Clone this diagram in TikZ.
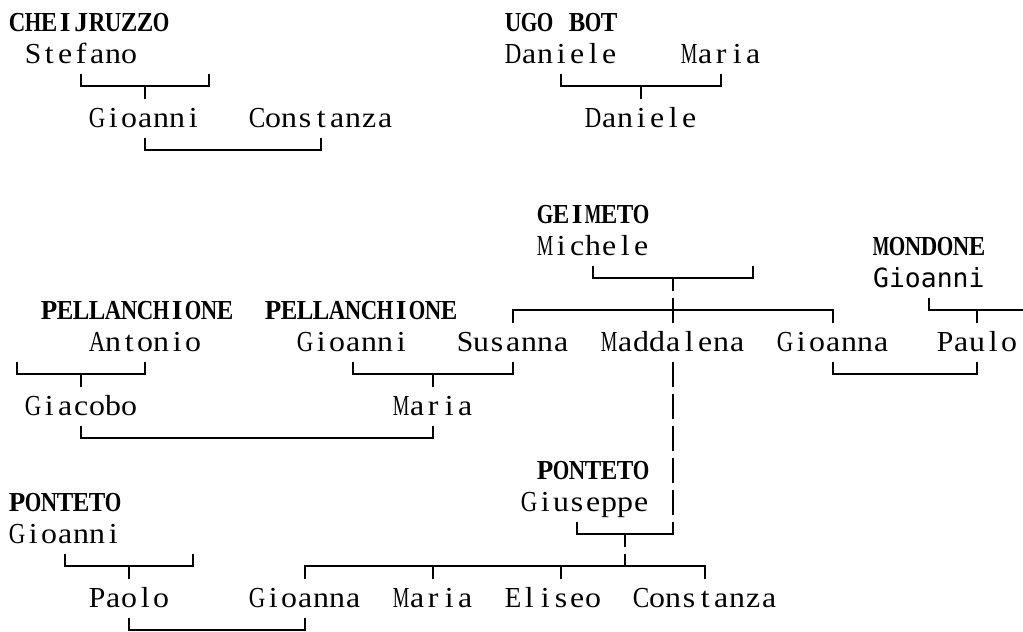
\documentclass[tikz,border=0pt]{standalone}
\usepackage{fontspec}
\setmainfont{Liberation Serif}
\newfontfamily\altmono{DejaVu Sans Mono}
\ExplSyntaxOn
\box_new:N \l_cell_box
\dim_new:N \l_cellmax_dim
\dim_set:Nn \l_cellmax_dim {16.5pt}
\fp_new:N \l_cell_fp
% #1 = preferred horizontal stretch, #2 = text; every glyph is centred in a 16pt cell
\NewDocumentCommand\cells{O{1.1}m}{
  \tl_map_inline:nn {#2}{
    \hbox_set:Nn \l_cell_box {##1}
    \dim_compare:nNnTF {\box_wd:N \l_cell_box} > {0pt}
      {
        \fp_set:Nn \l_cell_fp { min(#1, \dim_to_fp:n {\l_cellmax_dim} / \dim_to_fp:n {\box_wd:N \l_cell_box}) }
        \box_scale:Nnn \l_cell_box { \fp_use:N \l_cell_fp } {1}
      } { }
    \makebox[16pt][c]{\box_use:N \l_cell_box}
  }
}
\ExplSyntaxOff
\tikzset{
  nm/.style={anchor=base west, inner sep=0pt, font=\fontsize{29}{32}\selectfont},
  sur/.style={anchor=base west, inner sep=0pt, font=\fontsize{27.5}{32}\selectfont\bfseries},
  alt/.style={anchor=base west, inner sep=0pt, font=\fontsize{26.4}{32}\selectfont\altmono},
  ln/.style={line width=1.8pt, black}
}
% box-drawing helpers (column, row grid)
\newcommand\bxB[3]{\draw[ln] (#1,#3-0.375) |- (#2,#3) -- (#2,#3-0.375);}% arms up at both ends
\newcommand\bxT[3]{\draw[ln] (#1,#3+0.41) |- (#2,#3) -- (#2,#3+0.41);}% arms down at both ends
\newcommand\bxD[2]{\draw[ln] (#1,#2) -- (#1,#2+0.41);}% stub down
\newcommand\bxU[2]{\draw[ln] (#1,#2-0.375) -- (#1,#2);}% stub up
\newcommand\bxV[2]{\draw[ln] (#1,#2-0.375) -- (#1,#2+0.41);}% full vertical bar
\begin{document}
\begin{tikzpicture}
\useasboundingbox (0pt,0pt) rectangle (1023pt,-632pt);
\begin{scope}[shift={(17pt,-22pt)}, x=16pt, y=-32pt]
% ---------- names ----------
\node[sur] (chei) at (-0.5,0.29) {\cells[1]{CHEIJRUZZO}};
\node[sur] (ugo)  at (30.5,0.29) {\cells[1]{UGO~BOT}};
\node[nm] (stefano) at (0.5,1.29) {\cells{Stefano}};
\node[nm] (daniele1) at (30.5,1.29) {\cells{Daniele}};
\node[nm] (maria1) at (41.5,1.29) {\cells{Maria}};
\node[nm] (gioanni1) at (4.5,3.29) {\cells{Gioanni}};
\node[nm] (constanza1) at (14.5,3.29) {\cells{Constanza}};
\node[nm] (daniele2) at (35.5,3.29) {\cells{Daniele}};
\node[sur] (geimeto) at (32.5,6.29) {\cells[1]{GEIMETO}};
\node[nm] (michele) at (32.5,7.29) {\cells{Michele}};
\node[sur] (mondone) at (53.5,7.29) {\cells[1]{MONDONE}};
\node[alt] (gioanniM) at (53.5,8.29) {Gioanni};
\node[sur] (pell1) at (1.5,9.29) {\cells[1]{PELLANCHIONE}};
\node[sur] (pell2) at (15.5,9.29) {\cells[1]{PELLANCHIONE}};
\node[nm] (antonio) at (4.5,10.29) {\cells{Antonio}};
\node[nm] (gioanni2) at (17.5,10.29) {\cells{Gioanni}};
\node[nm] (susanna) at (27.5,10.29) {\cells{Susanna}};
\node[nm] (maddalena) at (36.5,10.29) {\cells{Maddalena}};
\node[nm] (gioanna1) at (47.5,10.29) {\cells{Gioanna}};
\node[nm] (paulo) at (57.5,10.29) {\cells{Paulo}};
\node[nm] (giacobo) at (0.5,12.29) {\cells{Giacobo}};
\node[nm] (maria2) at (23.5,12.29) {\cells{Maria}};
\node[sur] (ponteto1) at (32.5,14.29) {\cells[1]{PONTETO}};
\node[sur] (ponteto2) at (-0.5,15.29) {\cells[1]{PONTETO}};
\node[nm] (giuseppe) at (31.5,15.29) {\cells{Giuseppe}};
\node[nm] (gioanni3) at (-0.5,16.29) {\cells{Gioanni}};
\node[nm] (paolo) at (4.5,18.29) {\cells{Paolo}};
\node[nm] (gioanna2) at (14.5,18.29) {\cells{Gioanna}};
\node[nm] (maria3) at (23.5,18.29) {\cells{Maria}};
\node[nm] (eliseo) at (30.5,18.29) {\cells{Eliseo}};
\node[nm] (constanza2) at (38.5,18.29) {\cells{Constanza}};
% ---------- connectors ----------
% row 2
\bxB{4}{12}{2} \bxD{8}{2}
\bxB{34}{44}{2} \bxD{39}{2}
% row 4
\bxB{8}{19}{4}
% row 8
\bxB{36}{46}{8} \bxD{41}{8}
% row 9
\bxT{31}{51}{9} \bxV{41}{9}
\draw[ln] (57,9-0.375) |- (63.6,9); \bxD{60}{9}
% row 11
\bxB{0}{8}{11} \bxD{4}{11}
\bxB{21}{31}{11} \bxD{26}{11}
\bxV{41}{11}
\bxB{51}{60}{11}
% rows 12-15 vertical from Maddalena
\bxV{41}{12}
\bxB{4}{26}{13} \bxV{41}{13}
\bxV{41}{14}
\bxV{41}{15}
% row 16
\bxB{35}{41}{16} \bxD{38}{16}
% row 17
\bxB{3}{11}{17} \bxD{7}{17}
\bxT{18}{43}{17} \bxD{26}{17} \bxD{34}{17} \bxU{38}{17}
% row 19
\bxB{7}{18}{19}
\end{scope}
\end{tikzpicture}
\end{document}
